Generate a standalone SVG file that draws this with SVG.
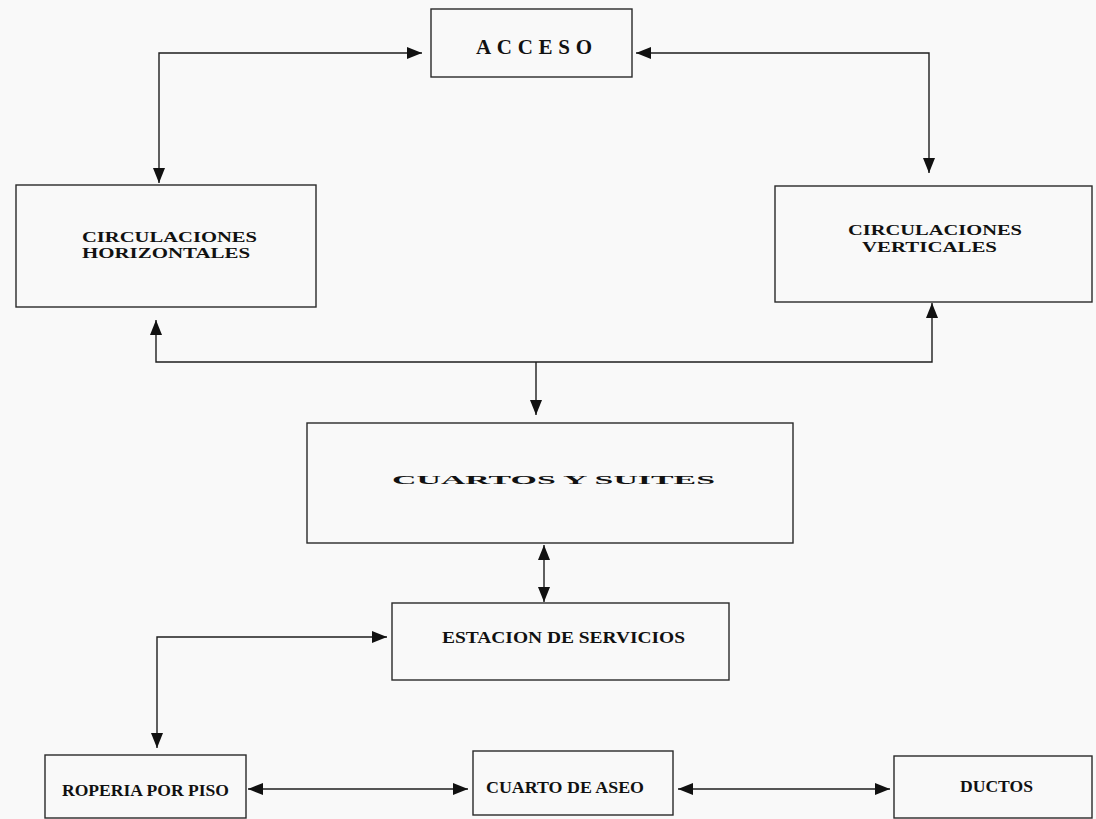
<svg xmlns="http://www.w3.org/2000/svg" width="1096" height="819" viewBox="0 0 1096 819">
  <defs>
    <marker id="arrow" viewBox="0 0 15 12" refX="15" refY="6" markerWidth="15" markerHeight="12" markerUnits="userSpaceOnUse" orient="auto-start-reverse">
      <path d="M0,0 L15,6 L0,12 z" fill="#111"/>
    </marker>
  </defs>
  <style>
    .box { fill: none; stroke: #2a2a2a; stroke-width: 1.4; }
    .wire { fill: none; stroke: #1e1e1e; stroke-width: 1.4; }
    .lbl { font-family: "Liberation Serif", "Times New Roman", serif; font-weight: bold; fill: #111; }
    .title { font-family: "Liberation Serif", "Times New Roman", serif; font-weight: bold; fill: #111; font-size: 21px; }
  </style>

  <rect width="1096" height="819" fill="#f9f9f9"/>

  <g id="acceso">
    <rect class="box" x="431" y="9" width="201" height="68"/>
    <text class="title" x="476" y="54" textLength="116" lengthAdjust="spacing">ACCESO</text>
  </g>

  <g id="circulaciones-horizontales">
    <rect class="box" x="16" y="185" width="300" height="122"/>
    <text class="lbl" font-size="14" x="82" y="242" textLength="175" lengthAdjust="spacingAndGlyphs">CIRCULACIONES</text>
    <text class="lbl" font-size="14" x="82" y="258" textLength="168" lengthAdjust="spacingAndGlyphs">HORIZONTALES</text>
  </g>

  <g id="circulaciones-verticales">
    <rect class="box" x="775" y="186" width="317" height="116"/>
    <text class="lbl" font-size="14" x="848" y="235" textLength="174" lengthAdjust="spacingAndGlyphs">CIRCULACIONES</text>
    <text class="lbl" font-size="14" x="862" y="252" textLength="135" lengthAdjust="spacingAndGlyphs">VERTICALES</text>
  </g>

  <g id="cuartos-y-suites">
    <rect class="box" x="307" y="423" width="486" height="120"/>
    <text class="lbl" font-size="13" x="392" y="484" textLength="323" lengthAdjust="spacingAndGlyphs">CUARTOS Y SUITES</text>
  </g>

  <g id="estacion-de-servicios">
    <rect class="box" x="392" y="603" width="337" height="77"/>
    <text class="lbl" font-size="16" x="442" y="643" textLength="243" lengthAdjust="spacingAndGlyphs">ESTACION DE SERVICIOS</text>
  </g>

  <g id="roperia-por-piso">
    <rect class="box" x="45" y="755" width="201" height="63"/>
    <text class="lbl" font-size="17" x="62" y="796" textLength="167" lengthAdjust="spacingAndGlyphs">ROPERIA POR PISO</text>
  </g>

  <g id="cuarto-de-aseo">
    <rect class="box" x="473" y="751" width="200" height="64"/>
    <text class="lbl" font-size="17" x="486" y="793" textLength="158" lengthAdjust="spacingAndGlyphs">CUARTO DE ASEO</text>
  </g>

  <g id="ductos">
    <rect class="box" x="894" y="756" width="198" height="62"/>
    <text class="lbl" font-size="17" x="960" y="792" textLength="73" lengthAdjust="spacingAndGlyphs">DUCTOS</text>
  </g>

  <g id="connectors">
    <path class="wire" d="M422,53 H159 V183" marker-start="url(#arrow)" marker-end="url(#arrow)"/>
    <path class="wire" d="M636,53 H929 V173" marker-start="url(#arrow)" marker-end="url(#arrow)"/>
    <path class="wire" d="M156,320 V362 H932 V303" marker-start="url(#arrow)" marker-end="url(#arrow)"/>
    <path class="wire" d="M536,362 V415" marker-end="url(#arrow)"/>
    <path class="wire" d="M544,545 V602" marker-start="url(#arrow)" marker-end="url(#arrow)"/>
    <path class="wire" d="M387,637 H157 V748" marker-start="url(#arrow)" marker-end="url(#arrow)"/>
    <path class="wire" d="M248,789 H468" marker-start="url(#arrow)" marker-end="url(#arrow)"/>
    <path class="wire" d="M678,789 H890" marker-start="url(#arrow)" marker-end="url(#arrow)"/>
  </g>
</svg>
